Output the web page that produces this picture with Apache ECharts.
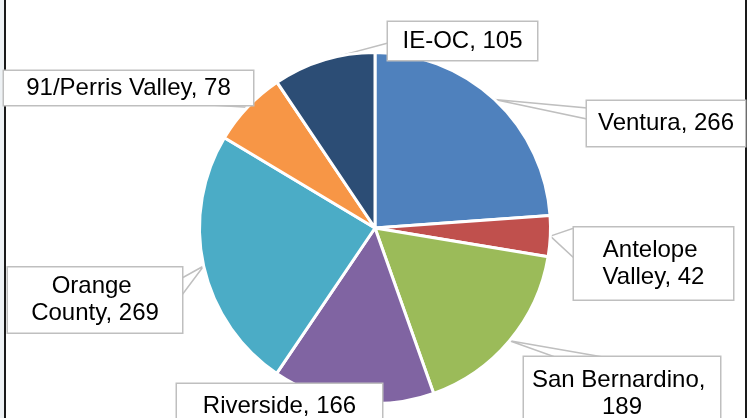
<!DOCTYPE html>
<html>
<head>
<meta charset="utf-8">
<script src="https://cdn.jsdelivr.net/npm/echarts@6/dist/echarts.min.js"></script>
<style>
html,body{margin:0;padding:0;background:#fff;}
#chart{width:749px;height:418px;}
</style>
</head>
<body>
<div id="chart"></div>
<script>
const categories = ['Ventura', 'Antelope Valley', 'San Bernardino', 'Riverside', 'Orange County', '91/Perris Valley', 'IE-OC'];
const values = [266, 42, 189, 166, 269, 78, 105];
const colors = ['#4F81BD', '#C0504D', '#9BBB59', '#8064A2', '#4BACC6', '#F79646', '#2C4D75'];

// label box layout (callout placement)
const labelPlace = {
  'Ventura':          {cx: 666,   cy: 123.5, w: 148, pad: [9, 5],   base: [[587, 108], [587, 119]]},
  'Antelope Valley':  {cx: 653.5, cy: 263.5, w: 149, pad: [9, 5],   base: [[574, 228], [574, 258]]},
  'San Bernardino':   {cx: 622,   cy: 393.5, w: 186, pad: [9.5, 5], base: [[555, 357], [603, 357]]},
  'Riverside':        {cx: 279.5, cy: 406.5, w: 195, pad: [9, 5],   base: null},
  'Orange County':    {cx: 95,    cy: 300,   w: 150, pad: [5.5, 12], base: [[182, 278], [182, 295]]},
  '91/Perris Valley': {cx: 128.5, cy: 88,    w: 239, pad: [3.5, 5], base: [[210, 105], [252, 105]]},
  'IE-OC':            {cx: 462.5, cy: 41,    w: 139, pad: [5.5, 5], base: [[388, 43], [388, 55]]}
};

const chart = echarts.init(document.getElementById('chart'), null, {renderer: 'canvas'});

const data = categories.map((name, i) => ({
  name: name,
  value: values[i],
  itemStyle: {color: colors[i]},
  label: {width: labelPlace[name].w, padding: labelPlace[name].pad},
  labelLine: {show: labelPlace[name].base != null}
}));

chart.setOption({
  animation: false,
  backgroundColor: '#ffffff',
  graphic: [
    {type: 'rect', shape: {x: 0, y: 0, width: 4, height: 418}, style: {fill: '#EEF2F5'}, silent: true},
    {type: 'rect', shape: {x: 4, y: 0, width: 2, height: 418}, style: {fill: '#1a1a1a'}, silent: true},
    {type: 'rect', shape: {x: 745, y: 0, width: 2, height: 418}, style: {fill: '#1a1a1a'}, silent: true}
  ],
  series: [{
    type: 'pie',
    center: [375, 228],
    radius: 175.5,
    startAngle: 90,
    clockwise: true,
    avoidLabelOverlap: false,
    itemStyle: {borderColor: '#ffffff', borderWidth: 3},
    emphasis: {disabled: true},
    label: {
      show: true,
      position: 'outside',
      formatter: '{b}, {c}',
      fontFamily: '"Liberation Sans", Arial, sans-serif',
      fontSize: 24,
      lineHeight: 27,
      color: '#000000',
      backgroundColor: '#ffffff',
      borderColor: '#BFBFBF',
      borderWidth: 1.5,
      overflow: 'break',
      align: 'center'
    },
    labelLine: {
      show: true,
      lineStyle: {color: '#BFBFBF', width: 1.5}
    },
    labelLayout: function (params) {
      const name = categories[params.dataIndex];
      const p = labelPlace[name];
      const out = {x: p.cx, y: p.cy, align: 'center', verticalAlign: 'middle'};
      let tip = params.labelLinePoints ? params.labelLinePoints[0] : null;
      try {
        const lay = chart.getModel().getSeriesByIndex(0).getData().getItemLayout(params.dataIndex);
        if (lay && lay.r != null) {
          const mid = (lay.startAngle + lay.endAngle) / 2;
          tip = [lay.cx + lay.r * Math.cos(mid), lay.cy + lay.r * Math.sin(mid)];
        }
      } catch (e) {}
      if (p.base && tip) {
        out.labelLinePoints = [tip, p.base[0], p.base[1], tip];
      }
      return out;
    },
    data: data
  }]
});
</script>
</body>
</html>
